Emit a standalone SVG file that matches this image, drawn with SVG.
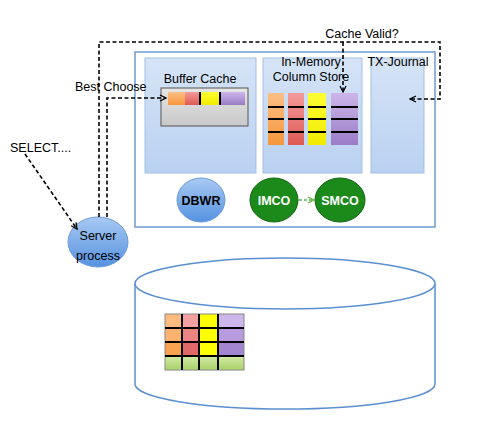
<svg xmlns="http://www.w3.org/2000/svg" width="500" height="445" viewBox="0 0 500 445">
<defs>
<linearGradient id="panel" x1="0" y1="0" x2="0" y2="1"><stop offset="0" stop-color="#d6e4f6"/><stop offset="1" stop-color="#b9d1f1"/></linearGradient>
<linearGradient id="blue" x1="0" y1="0" x2="0" y2="1"><stop offset="0" stop-color="#a9c9f2"/><stop offset="1" stop-color="#5592e0"/></linearGradient>
<linearGradient id="grey" x1="0" y1="0" x2="0" y2="1"><stop offset="0" stop-color="#e6e6e6"/><stop offset="1" stop-color="#c8c8c8"/></linearGradient>
<linearGradient id="or" x1="0" y1="0" x2="0" y2="1"><stop offset="0" stop-color="#fcbf86"/><stop offset="1" stop-color="#f7963c"/></linearGradient>
<linearGradient id="rd" x1="0" y1="0" x2="0" y2="1"><stop offset="0" stop-color="#f49a9a"/><stop offset="1" stop-color="#dd5a55"/></linearGradient>
<linearGradient id="yl" x1="0" y1="0" x2="0" y2="1"><stop offset="0" stop-color="#ffff33"/><stop offset="1" stop-color="#f2ea00"/></linearGradient>
<linearGradient id="pu" x1="0" y1="0" x2="0" y2="1"><stop offset="0" stop-color="#cdb5ea"/><stop offset="1" stop-color="#9a7cc6"/></linearGradient>
<linearGradient id="gr" x1="0" y1="0" x2="0" y2="1"><stop offset="0" stop-color="#d5eaa6"/><stop offset="1" stop-color="#a9d36a"/></linearGradient>
<marker id="ah" markerWidth="8" markerHeight="8" refX="7" refY="4" orient="auto" markerUnits="userSpaceOnUse"><path d="M1,1 L7,4 L1,7" fill="none" stroke="#000" stroke-width="1.3"/></marker>
<marker id="ahg" markerWidth="8" markerHeight="8" refX="7" refY="4" orient="auto" markerUnits="userSpaceOnUse"><path d="M1,1 L7,4 L1,7" fill="none" stroke="#5fb44a" stroke-width="1.3"/></marker>
</defs>
<style>
text{font-family:"Liberation Sans",Arial,sans-serif;font-size:12.5px;fill:#000}
.c{text-anchor:middle}
.b{font-weight:bold}
.w{fill:#fff}
.panel{fill:url(#panel);stroke:#a3bfe3;stroke-width:1}
.dash{fill:none;stroke:#000;stroke-width:1.6;stroke-dasharray:4,2.5}
.ln{stroke:#000;stroke-width:2}
.gl{stroke:#000;stroke-width:1.6}
</style>
<rect width="500" height="445" fill="#fff"/>

<g id="sga"><rect x="135" y="52" width="300" height="175" fill="#fff" stroke="#6d9bd1" stroke-width="1.5"/></g>

<g id="buffer-cache">
<rect class="panel" x="145" y="58" width="111" height="115"/>
<text class="c" x="200" y="83">Buffer Cache</text>
<rect x="161" y="88" width="87" height="38" fill="url(#grey)" stroke="#555" stroke-width="1"/>
<rect x="168" y="92" width="17" height="13" fill="url(#or)"/>
<rect x="185" y="92" width="15" height="13" fill="url(#rd)"/>
<rect x="201" y="92" width="18" height="13" fill="url(#yl)"/>
<rect x="221" y="92" width="24" height="13" fill="url(#pu)"/>
<line class="ln" x1="200" y1="92" x2="200" y2="105"/>
<line class="ln" x1="220" y1="92" x2="220" y2="105"/>
</g>

<g id="imcs">
<rect class="panel" x="263" y="58" width="99" height="115"/>
<text class="c" x="311" y="66">In-Memory</text>
<text class="c" x="311" y="81">Column  Store</text>
<rect x="268" y="93" width="16" height="52" fill="url(#or)"/>
<rect x="288" y="93" width="16" height="52" fill="url(#rd)"/>
<rect x="308" y="93" width="18" height="52" fill="url(#yl)"/>
<rect x="331" y="93" width="27" height="52" fill="url(#pu)"/>
<g class="ln">
<line x1="268" y1="107" x2="284" y2="107"/><line x1="268" y1="119" x2="284" y2="119"/><line x1="268" y1="132" x2="284" y2="132"/>
<line x1="288" y1="107" x2="304" y2="107"/><line x1="288" y1="119" x2="304" y2="119"/><line x1="288" y1="132" x2="304" y2="132"/>
<line x1="308" y1="107" x2="326" y2="107"/><line x1="308" y1="119" x2="326" y2="119"/><line x1="308" y1="132" x2="326" y2="132"/>
<line x1="331" y1="107" x2="358" y2="107"/><line x1="331" y1="119" x2="358" y2="119"/><line x1="331" y1="132" x2="358" y2="132"/>
</g>
</g>

<g id="tx-journal">
<rect class="panel" x="371" y="58" width="53" height="115"/>
<text class="c" x="398" y="66">TX-Journal</text>
</g>

<g id="dbwr"><ellipse cx="201" cy="200" rx="24" ry="22" fill="url(#blue)" stroke="#6a9bd6" stroke-width="1"/><text class="c b" x="201" y="205" font-size="12">DBWR</text></g>
<g id="imco"><ellipse cx="274" cy="200" rx="24" ry="22" fill="#1b8a1b" stroke="#126312" stroke-width="1"/><text class="c b w" x="274" y="205">IMCO</text></g>
<g id="smco"><ellipse cx="340" cy="200" rx="25" ry="22" fill="#1b8a1b" stroke="#126312" stroke-width="1"/><text class="c b w" x="340" y="205">SMCO</text></g>

<g id="server-process"><ellipse cx="98" cy="242" rx="30" ry="25" fill="url(#blue)" stroke="#6a9bd6" stroke-width="1"/><text class="c" x="98" y="240">Server</text><text class="c" x="98" y="260">process</text></g>

<g id="select"><text x="10" y="152">SELECT....</text></g>

<g id="disk">
<path d="M135,283.5 L135,384 A150,25 0 0 0 435,384 L435,283.5" fill="#fff" stroke="#5b8fd0" stroke-width="1.5"/>
<ellipse cx="285" cy="283.5" rx="150" ry="25.5" fill="#fff" stroke="#5b8fd0" stroke-width="1.5"/>
<rect x="165" y="314" width="17" height="14" fill="#fdbb80"/><rect x="182" y="314" width="17" height="14" fill="#f4a0a0"/><rect x="199" y="314" width="19" height="14" fill="#ffff00"/><rect x="218" y="314" width="26" height="14" fill="#cdb6ea"/>
<rect x="165" y="328" width="17" height="14" fill="#fbb26e"/><rect x="182" y="328" width="17" height="14" fill="#ec8484"/><rect x="199" y="328" width="19" height="14" fill="#ffff00"/><rect x="218" y="328" width="26" height="14" fill="#b89ade"/>
<rect x="165" y="342" width="17" height="14" fill="#f9a351"/><rect x="182" y="342" width="17" height="14" fill="#e06868"/><rect x="199" y="342" width="19" height="14" fill="#ffff00"/><rect x="218" y="342" width="26" height="14" fill="#a485cf"/>
<rect x="165" y="356" width="79" height="14" fill="url(#gr)"/>
<rect x="165" y="314" width="79" height="56" fill="none" stroke="#888" stroke-width="1"/>
<g class="ln">
<line x1="165" y1="328" x2="244" y2="328"/><line x1="165" y1="342" x2="244" y2="342"/><line x1="165" y1="356" x2="244" y2="356"/>
<line x1="182" y1="314" x2="182" y2="370"/><line x1="199" y1="314" x2="199" y2="370"/><line x1="218" y1="314" x2="218" y2="370"/>
</g>
</g>

<g id="connectors">
<line class="dash" x1="25" y1="154" x2="77" y2="229" marker-end="url(#ah)"/>
<polyline class="dash" points="99,217 99,42 440,42 440,99 410,99" marker-end="url(#ah)"/>
<line class="dash" x1="343" y1="42" x2="343" y2="92" marker-end="url(#ah)"/>
<polyline class="dash" points="107,217 107,98 166,98" marker-end="url(#ah)"/>
<line x1="299" y1="200" x2="314" y2="200" stroke="#5fb44a" stroke-width="1.3" stroke-dasharray="3,2" marker-end="url(#ahg)"/>
<text class="c" x="362" y="38">Cache Valid?</text>
<text x="75" y="91">Best Choose</text>
</g>
</svg>
